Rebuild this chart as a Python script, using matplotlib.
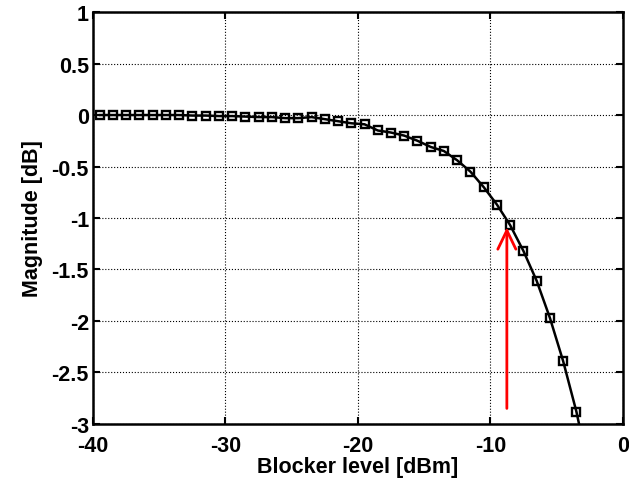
import numpy as np
import matplotlib.pyplot as plt

plt.rcParams['font.family'] = ['Liberation Sans', 'DejaVu Sans']
plt.rcParams['font.weight'] = 'bold'

# blocker level [dBm], one point every 1 dBm
blocker = np.arange(-39.5, -2.0, 1.0)
# magnitude [dB]
magnitude = [0.0, 0.0, 0.0, 0.0, 0.0, 0.0, 0.0, -0.005, -0.005, -0.01,
             -0.01, -0.015, -0.02, -0.02, -0.03, -0.03,
             -0.02, -0.04, -0.06, -0.08, -0.09, -0.15, -0.17, -0.20, -0.25,
             -0.31, -0.35, -0.44, -0.55, -0.70, -0.87, -1.07, -1.32, -1.61,
             -1.97, -2.39, -2.88, -3.48]

# arrow marking the point of interest
arrow_x = -8.75
arrow_from = -2.85
arrow_to = -1.09

fig = plt.figure(figsize=(6.29, 4.85), dpi=100)
ax = fig.add_axes([0.148, 0.124, 0.842, 0.849])

ax.plot(blocker, magnitude, color='black', linewidth=1.8, marker='s',
        markersize=6, markerfacecolor='none', markeredgecolor='black',
        markeredgewidth=1.7)

ax.annotate('', xy=(arrow_x, arrow_to), xytext=(arrow_x, arrow_from),
            arrowprops=dict(arrowstyle='->,head_width=0.65,head_length=1.35',
                            color='red', linewidth=2, shrinkA=0, shrinkB=0))

ax.set_xlim(-40, 0)
ax.set_ylim(-3, 1)
ax.set_xticks([-40, -30, -20, -10, 0])
ax.set_yticks([-3, -2.5, -2, -1.5, -1, -0.5, 0, 0.5, 1])
ax.set_yticklabels(['-3', '-2.5', '-2', '-1.5', '-1', '-0.5', '0', '0.5', '1'])
ax.set_xticklabels(['-40', '-30', '-20', '-10', '0'])
ax.grid(True, linestyle=':', color='black', linewidth=0.8)
ax.tick_params(direction='in', top=True, right=True, labelsize=15.5,
               width=1.5, length=5)
ax.tick_params(axis='x', pad=8)
ax.tick_params(axis='y', pad=3)
for s in ax.spines.values():
    s.set_linewidth(1.8)

ax.set_xlabel('Blocker level [dBm]', fontsize=15.5, fontweight='bold', labelpad=0)
ax.set_ylabel('Magnitude [dB]', fontsize=15.5, fontweight='bold', labelpad=6)

fig.savefig('out.png', dpi=100)
